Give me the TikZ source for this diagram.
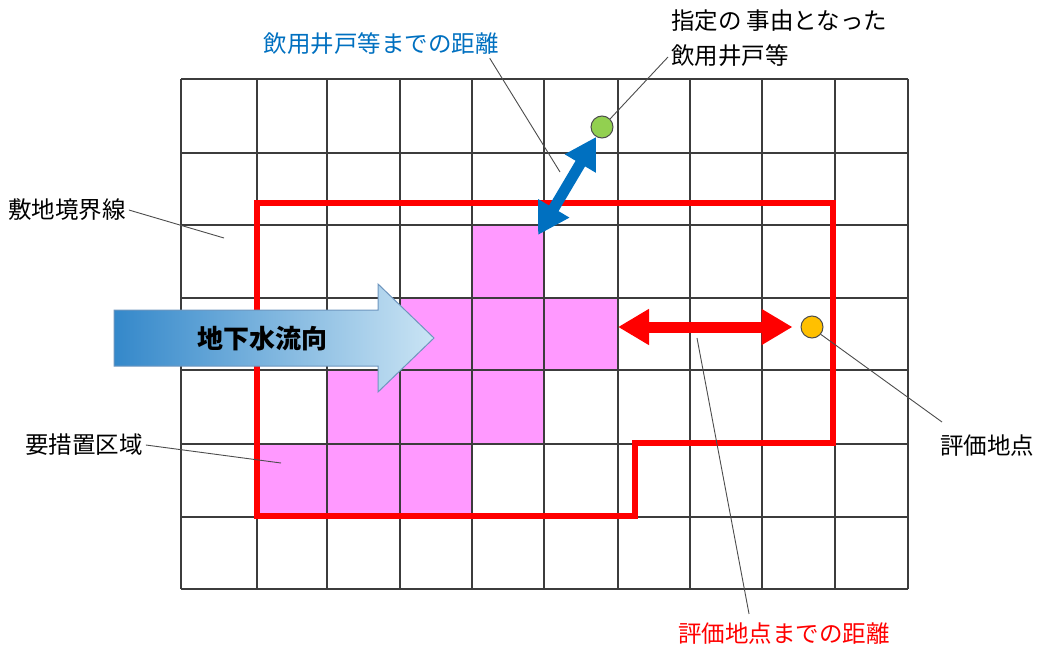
\documentclass[tikz,border=0pt]{standalone}
\usepackage{fontspec}
\setmainfont{Noto Sans CJK JP}
\usetikzlibrary{arrows.meta,positioning,calc}
\definecolor{gridgray}{RGB}{60,60,60}
\definecolor{zonepink}{RGB}{255,153,255}
\definecolor{bordred}{RGB}{255,0,0}
\definecolor{wellgreen}{RGB}{146,208,80}
\definecolor{pointorange}{RGB}{255,192,0}
\definecolor{distblue}{RGB}{0,112,192}
\definecolor{flowdark}{RGB}{52,136,202}
\definecolor{flowlight}{RGB}{202,228,244}
\definecolor{flowedge}{RGB}{110,150,190}
\tikzset{
  gridline/.style={draw=gridgray, line width=1.2pt},
  zonecell/.style={fill=zonepink},
  boundary/.style={draw=bordred, line width=6pt, line join=miter},
  leader/.style={draw=black!70, line width=0.9pt},
  tagtext/.style={inner sep=3pt, font=\fontsize{23.5}{35}\selectfont},
  marker/.style={circle, draw=black!70, line width=1pt, minimum size=22pt, inner sep=0pt},
  distarrow/.style={{Triangle[width=34pt,length=31pt]}-{Triangle[width=34pt,length=31pt]}, line width=11pt},
  flowtext/.style={font=\fontsize{26}{30}\selectfont\bfseries}
}
\begin{document}
\begin{tikzpicture}[x=1pt, y=-1pt]
\useasboundingbox (0,0) rectangle (1041,650);

% contaminated cells
\fill[zonecell] (472,225) rectangle (544,298);
\fill[zonecell] (400,298) rectangle (618,370);
\fill[zonecell] (327,370) rectangle (544,444);
\fill[zonecell] (257,444) rectangle (472,517);

% grid
\foreach \gx in {181,257,327,400,472,544,618,690,762,835,908}
  \draw[gridline] (\gx,79) -- (\gx,589);
\foreach \gy in {79,153,225,298,370,444,517,589}
  \draw[gridline] (181,\gy) -- (908,\gy);

% site boundary
\draw[boundary] (257,203) -- (833,203) -- (833,443) -- (635,443) -- (635,516) -- (257,516) -- cycle;

% groundwater flow
\shade[left color=flowdark, right color=flowlight, draw=flowedge, line width=1pt]
  (114,310) -- (378,310) -- (378,284) -- (434,338) -- (378,392) -- (378,366) -- (114,366) -- cycle;
\node[flowtext] (flow) at (262,339) {地下水流向};

% well and evaluation point
\node[marker, fill=wellgreen] (well) at (602,127) {};
\node[marker, fill=pointorange] (evalpt) at (812,327) {};
\coordinate (wellfoot) at (538,235);
\coordinate (zoneedge) at (618,327);
\draw[distarrow, distblue] (wellfoot) -- (well);
\draw[distarrow, bordred, shorten >=8pt] (zoneedge) -- (evalpt);

% labels
\node[tagtext, text=distblue] (welldist) at (381,44) {飲用井戸等までの距離};
\node[tagtext, anchor=west, align=left] (welltag) at (668,38) {指定の 事由となった\\飲用井戸等};
\node[tagtext, anchor=west] (bordertag) at (5,210) {敷地境界線};
\node[tagtext, anchor=west] (zonetag) at (22,445) {要措置区域};
\node[tagtext, anchor=west] (pointtag) at (937,446) {評価地点};
\node[tagtext, text=bordred] (pointdist) at (784,634) {評価地点までの距離};

% leader lines
\coordinate (welldistend) at (560,172);
\coordinate (borderend) at (224,238);
\coordinate (zoneend) at (281,463);
\coordinate (pointdistend) at (697,338);
\draw[leader] ($(welldist.south east)+(-12,0)$) -- (welldistend);
\draw[leader] ($(welltag.west)+(0,19)$) -- (well.45);
\draw[leader] (bordertag.east) -- (borderend);
\draw[leader] (zonetag.east) -- (zoneend);
\draw[leader] (evalpt.-40) -- ($(pointtag.north west)+(5,-10)$);
\draw[leader] ($(pointdist.north west)+(74,-6)$) -- (pointdistend);
\end{tikzpicture}
\end{document}
